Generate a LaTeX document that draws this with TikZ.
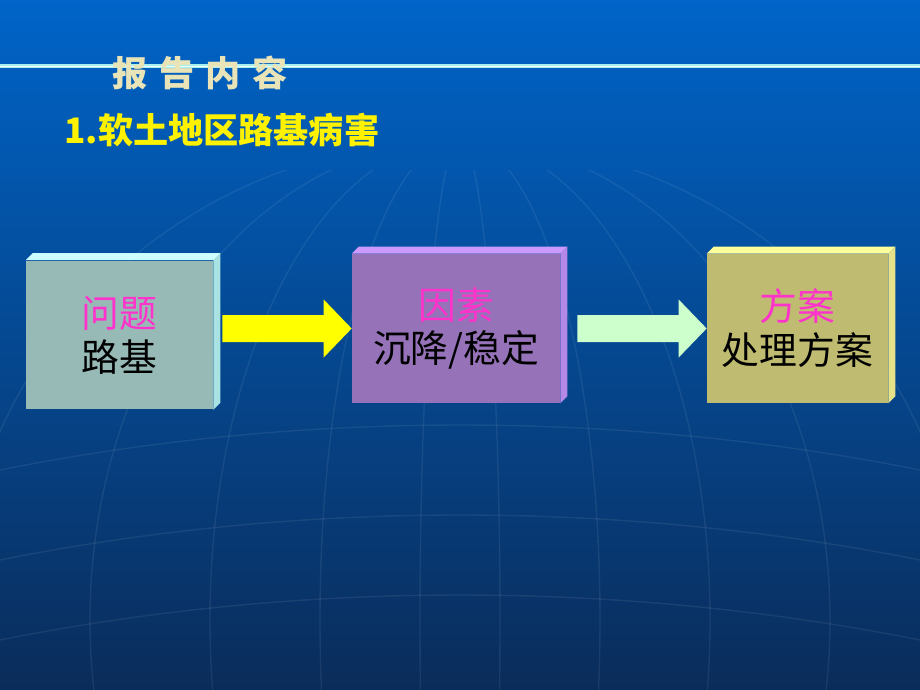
\documentclass[tikz,border=0pt]{standalone}
\usepackage{fontspec}
\newfontfamily\cjk{Noto Sans CJK SC}
\usetikzlibrary{calc}

\definecolor{bgtop}{HTML}{0064C8}
\definecolor{bgbot}{HTML}{0A2C5A}
\definecolor{titlepale}{HTML}{E8E4B8}
\definecolor{titleline}{HTML}{A8F0F0}
\definecolor{keyword}{HTML}{FF33CC}
\definecolor{probfront}{HTML}{97BAB6}
\definecolor{probtop}{HTML}{CCFFFF}
\definecolor{probside}{HTML}{A8E2E2}
\definecolor{causefront}{HTML}{9673B8}
\definecolor{causetop}{HTML}{CC99FF}
\definecolor{causeside}{HTML}{B388E6}
\definecolor{planfront}{HTML}{BFBB70}
\definecolor{plantop}{HTML}{FFFF99}
\definecolor{planside}{HTML}{E6E28A}
\definecolor{arrowA}{HTML}{FFFF00}
\definecolor{arrowB}{HTML}{CCFFCC}

\begin{document}
\begin{tikzpicture}[x=0.02cm, y=-0.02cm, font=\cjk]
  \tikzstyle{globe}=[draw=white, opacity=0.07, line width=0.8pt]
  \tikzstyle{block}=[rectangle, inner sep=0pt, minimum height=2.98cm, align=center,
                     font=\cjk\fontsize{21.5}{25}\selectfont]
  \tikzstyle{heading}=[inner sep=0pt, anchor=west, text=yellow,
                       font=\cjk\bfseries\fontsize{20}{24}\selectfont]
  \tikzstyle{chapter}=[inner sep=0pt, text=titlepale, font=\cjk\bfseries\fontsize{20}{22}\selectfont]

  \useasboundingbox (0,0) rectangle (920,690);
  \shade[top color=bgtop, bottom color=bgbot] (0,0) rectangle (920,690);

  % faint globe lines in the background
  \begin{scope}
    \clip (0,170) rectangle (920,690);
    \foreach \r in {40,140,250,370,500}
      \draw[globe] (460,620) ellipse ({\r} and 480);
    \foreach \yy in {470,560,640}
      \draw[globe] (0,\yy) .. controls (300,\yy-60) and (620,\yy-60) .. (920,\yy);
  \end{scope}

  % title bar
  \draw[titleline, line width=2.4pt] (0,66) -- (920,66);
  \draw[white!80!titleline, line width=0.5pt] (0,66) -- (920,66);
  \node[chapter] (ttl) at (200,73) {报\hspace{0.32em}告\hspace{0.32em}内\hspace{0.32em}容};
  \node[heading] (sub) at (64,130) {1.软土地区路基病害};

  % the three blocks
  \node[block, fill=probfront, minimum width=3.74cm] (b1) at (119.5,335) {\textcolor{keyword}{问题}\\路基};
  \node[block, fill=causefront, minimum width=4.16cm] (b2) at (456,328.5) {\textcolor{keyword}{因素}\\沉降/稳定};
  \node[block, fill=planfront, minimum width=3.62cm] (b3) at (797.5,328.5) {\textcolor{keyword}{方案}\\处理方案};

  \foreach \blk/\lid/\flank in {b1/probtop/probside, b2/causetop/causeside, b3/plantop/planside} {
    \fill[\lid] (\blk.north west) -- ++(7,-7) -- ($(\blk.north east)+(7,-7)$) -- (\blk.north east) -- cycle;
    \fill[\flank] (\blk.north east) -- ++(7,-7) -- ($(\blk.south east)+(7,-7)$) -- (\blk.south east) -- cycle;
  }

  % block arrows
  \foreach \src/\dst/\gap/\col in {b1/b2/9/arrowA, b2/b3/17/arrowB} {
    \coordinate (s) at ($(\src.east |- \dst.west)+(\gap,0)$);
    \fill[\col] ($(s)+(0,-13.5)$) -- ($(\dst.west)+(-28,-13.5)$) -- ($(\dst.west)+(-28,-29)$)
      -- (\dst.west) -- ($(\dst.west)+(-28,29)$) -- ($(\dst.west)+(-28,13.5)$) -- ($(s)+(0,13.5)$) -- cycle;
  }
\end{tikzpicture}
\end{document}
